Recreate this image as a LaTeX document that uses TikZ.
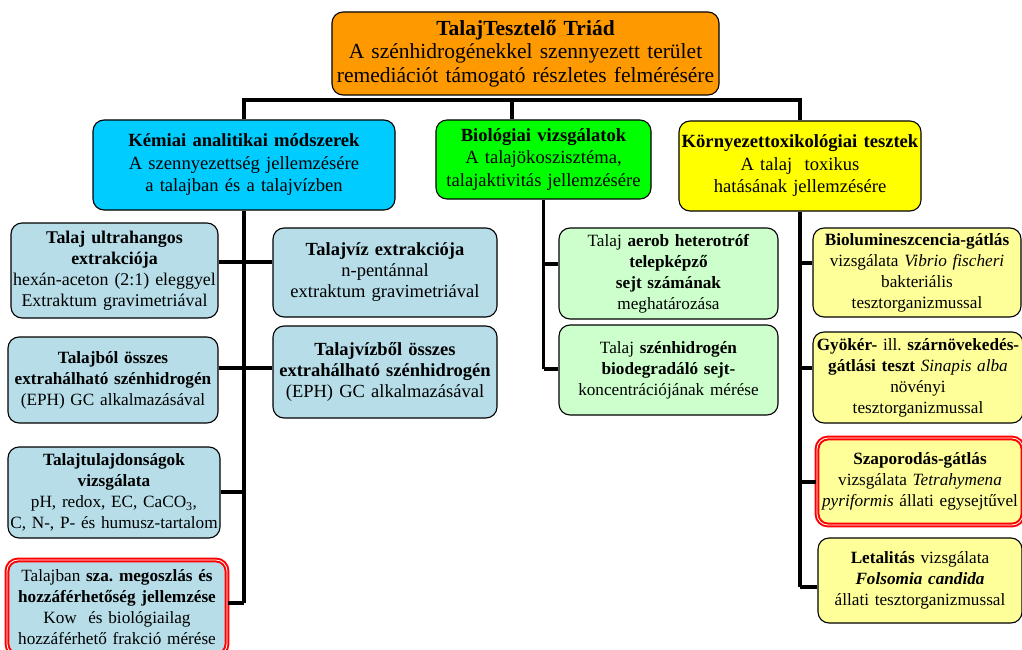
\documentclass[tikz,border=0pt]{standalone}
\usepackage{fontspec}
\setmainfont{Liberation Serif}
\frenchspacing
\newcommand\fntTop{\fontsize{21.5}{23.5}\selectfont}
\newcommand\fntHead{\fontsize{18.6}{22.5}\selectfont}
\newcommand\fntSide{\fontsize{17.2}{21}\selectfont}
\newcommand\fntSideL{\fontsize{18.5}{21}\selectfont}
\newcommand\fntSideM{\fontsize{17.9}{21}\selectfont}
\definecolor{cTop}{HTML}{FF9900}
\definecolor{cChem}{HTML}{00CCFF}
\definecolor{cBio}{HTML}{00FF00}
\definecolor{cTox}{HTML}{FFFF00}
\definecolor{cChemL}{HTML}{B6DDE8}
\definecolor{cBioL}{HTML}{CCFFCC}
\definecolor{cToxL}{HTML}{FFFF99}
\tikzset{
  box/.style={draw=black, line width=1.1pt, rounded corners=11pt, align=center, inner sep=1pt},
  topbox/.style={box, fill=cTop, font=\fntTop},
  headbox/.style={box, font=\fntHead},
  sidebox/.style={box, font=\fntSide},
  hilite/.style={draw=red, line width=2pt, double=white, double distance=0.8pt},
  link/.style={draw=black, line width=3.2pt},
}
\begin{document}
\begin{tikzpicture}[x=1pt, y=-1pt]
\useasboundingbox (0,0) rectangle (1022,650);

% main title box
\node[topbox, minimum width=387pt, minimum height=83pt, text width=385pt] (top) at (525.5,53.5)
  {\textbf{TalajTesztelő Triád}\\A szénhidrogénekkel szennyezett terület\\remediációt támogató részletes felmérésére};

% three column heads
\node[headbox, fill=cChem, minimum width=302pt, minimum height=90pt, text width=298pt] (chem) at (244,165)
  {\textbf{Kémiai analitikai módszerek}\\A szennyezettség jellemzésére\\a talajban és a talajvízben};
\node[headbox, fill=cBio, minimum width=215pt, minimum height=79pt, text width=213pt] (bio) at (543.5,159.5)
  {\textbf{Biológiai vizsgálatok}\\A talajökoszisztéma,\\talajaktivitás jellemzésére};
\node[headbox, fill=cTox, minimum width=242pt, minimum height=90pt, text width=240pt] (tox) at (800,166)
  {\textbf{Környezettoxikológiai tesztek}\\A talaj\ \ toxikus\\hatásának jellemzésére};

% chemical analysis column
\node[sidebox, font=\fntSideM, fill=cChemL, minimum width=207pt, minimum height=95pt, text width=205pt] (l1) at (114.5,270.5)
  {\textbf{Talaj ultrahangos}\\\textbf{extrakciója}\\hexán-aceton (2:1) eleggyel\\Extraktum gravimetriával};
\node[sidebox, fill=cChemL, minimum width=210pt, minimum height=86pt, text width=208pt] (l2) at (113,380)
  {\textbf{Talajból összes}\\\textbf{extrahálható szénhidrogén}\\(EPH) GC alkalmazásával};
\node[sidebox, fill=cChemL, minimum width=212pt, minimum height=91pt, text width=210pt] (l3) at (114,492.5)
  {\textbf{Talajtulajdonságok}\\\textbf{vizsgálata}\\pH, redox, EC, CaCO\textsubscript{3},\\C, N-, P- és humusz-tartalom};
\node[sidebox, hilite, fill=cChemL, minimum width=220pt, minimum height=95pt, text width=214pt] (l4) at (117,607.5)
  {Talajban \textbf{sza. megoszlás és}\\\textbf{hozzáférhetőség jellemzése}\\Kow\ \ és biológiailag\\hozzáférhető frakció mérése};
\node[sidebox, font=\fntSideL, fill=cChemL, minimum width=224pt, minimum height=89pt, text width=222pt] (w1) at (385,272.5)
  {\textbf{Talajvíz extrakciója}\\n-pentánnal\\extraktum gravimetriával};
\node[sidebox, font=\fntSideL, fill=cChemL, minimum width=224pt, minimum height=92pt, text width=222pt] (w2) at (385,372)
  {\textbf{Talajvízből összes}\\\textbf{extrahálható szénhidrogén}\\(EPH) GC alkalmazásával};

% biological column
\node[sidebox, fill=cBioL, minimum width=219pt, minimum height=91pt, text width=217pt] (m1) at (668.5,273.5)
  {Talaj \textbf{aerob heterotróf}\\\textbf{telepképző}\\\textbf{sejt számának}\\meghatározása};
\node[sidebox, fill=cBioL, minimum width=219pt, minimum height=90pt, text width=217pt] (m2) at (668.5,370)
  {Talaj \textbf{szénhidrogén}\\\textbf{biodegradáló sejt-}\\koncentrációjának mérése};

% ecotoxicology column
\node[sidebox, fill=cToxL, minimum width=208pt, minimum height=89pt, text width=206pt] (r1) at (917,272.5)
  {\textbf{Biolumineszcencia-gátlás}\\vizsgálata \textit{Vibrio fischeri}\\bakteriális\\tesztorganizmussal};
\node[sidebox, fill=cToxL, minimum width=210pt, minimum height=91pt, text width=208pt] (r2) at (918,377.5)
  {\textbf{Gyökér-} ill. \textbf{szárnövekedés-}\\\textbf{gátlási teszt} \textit{Sinapis alba}\\növényi\\tesztorganizmussal};
\node[sidebox, hilite, fill=cToxL, minimum width=206pt, minimum height=87pt, text width=202pt] (r3) at (920,481.5)
  {\textbf{Szaporodás-gátlás}\\vizsgálata \textit{Tetrahymena}\\\textit{pyriformis} állati egysejtűvel};
\node[sidebox, fill=cToxL, minimum width=204pt, minimum height=85pt, text width=202pt] (r4) at (920,580.5)
  {\textbf{Letalitás} vizsgálata\\\textbf{\textit{Folsomia candida}}\\állati tesztorganizmussal};

% distribution bar under the title
\coordinate (barL) at (244,100);
\coordinate (barM) at (512,100);
\coordinate (barR) at (800,100);
\draw[link] (chem.north -| barL) -- (barL) -- (barR) -- (tox.north -| barR);
\draw[link] (barM) -- (bio.north -| barM);

% chemical spine and branches
\draw[link] (chem.south) -- (chem.south |- 0,603);
\draw[link] (l1.east |- 0,262) -- (w1.west |- 0,262);
\draw[link] (l2.east |- 0,368) -- (w2.west |- 0,368);
\draw[link] (l3.east |- 0,492) -- (chem.south |- 0,492);
\draw[link] (l4.east |- 0,603) -- (chem.south |- 0,603);

% biological spine and branches
\draw[link] (bio.south) -- (bio.south |- 0,369);
\draw[link] (bio.south |- 0,264) -- (m1.west |- 0,264);
\draw[link] (bio.south |- 0,369) -- (m2.west |- 0,369);

% ecotoxicology spine and branches
\draw[link] (tox.south) -- (tox.south |- 0,587);
\draw[link] (tox.south |- 0,263) -- (r1.west |- 0,263);
\draw[link] (tox.south |- 0,368) -- (r2.west |- 0,368);
\draw[link] (tox.south |- 0,482) -- (r3.west |- 0,482);
\draw[link] (tox.south |- 0,587) -- (r4.west |- 0,587);
\end{tikzpicture}
\end{document}
